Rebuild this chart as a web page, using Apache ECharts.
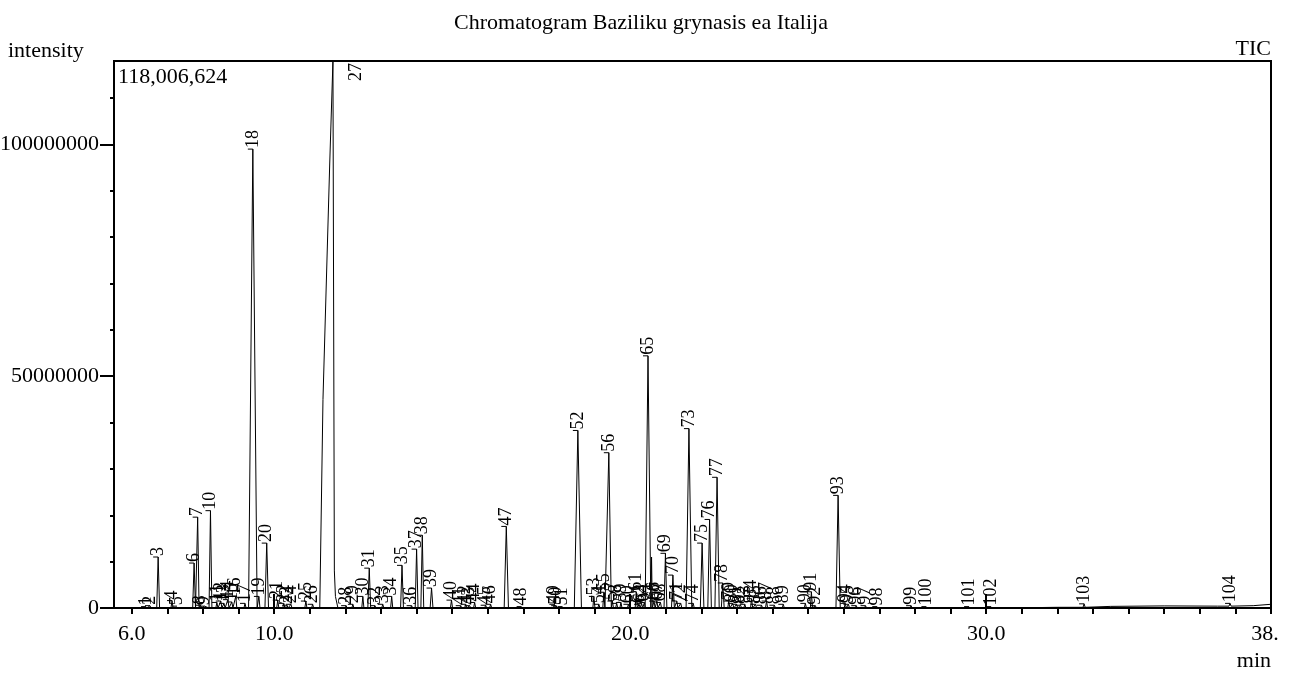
<!DOCTYPE html>
<html>
<head>
<meta charset="utf-8">
<script src="https://cdn.jsdelivr.net/npm/echarts@6/dist/echarts.min.js"></script>
<style>
html,body{margin:0;padding:0;background:#fff;}
#chart{width:1291px;height:673px;}
</style>
</head>
<body>
<div id="chart"></div>
<script>
// ---- data ----
const chartTitle = 'Chromatogram Baziliku grynasis ea Italija';
const yMaxIntensity = 118006624;

const peakLabels = ['1','2','3','4','5','6','7','8','9','10','11','12','13','14','15','16','17','18','19','20',
  '21','22','23','24','25','26','28','29','30','31','32','33','34','35','36','37','38','39','40',
  '41','42','43','44','45','46','47','48','49','50','51','52','53','54','55','56','57','58','59','60',
  '61','62','63','64','65','','66','67','68','69','70','71','72','73','74','75','76','77','78','79','80',
  '81','82','83','84','85','86','87','88','89','90','91','92','93','94','95','96','97','98','99','100',
  '101','102','103','104'];
const peakTimes = [6.40,6.51,6.74,7.13,7.27,7.75,7.85,7.93,8.04,8.21,8.39,8.50,8.59,8.70,8.81,8.92,9.18,9.40,9.57,9.79,
  10.10,10.27,10.36,10.47,10.89,11.08,12.02,12.21,12.49,12.67,12.83,13.05,13.30,13.59,13.86,14.00,14.16,14.42,14.98,
  15.24,15.38,15.49,15.63,15.94,16.08,16.52,16.95,17.87,17.92,18.10,18.53,18.98,19.12,19.26,19.40,19.50,19.62,19.74,19.95,
  20.17,20.25,20.32,20.40,20.50,20.60,20.67,20.75,20.85,20.99,21.20,21.31,21.42,21.65,21.77,22.02,22.23,22.44,22.60,22.77,22.88,
  22.99,23.10,23.22,23.41,23.52,23.69,23.83,24.05,24.30,24.92,25.09,25.20,25.84,26.04,26.13,26.35,26.61,26.94,27.89,28.32,
  29.52,30.14,32.75,36.85];
const peakHeights = [0.3e6,0.5e6,11.0e6,1.6e6,0.4e6,9.7e6,19.6e6,0.6e6,0.4e6,21.0e6,1.2e6,1.5e6,1.0e6,1.8e6,1.3e6,2.5e6,1.0e6,99.0e6,2.5e6,14.0e6,
  1.7e6,1.0e6,0.6e6,0.8e6,1.5e6,0.8e6,0.5e6,0.8e6,2.5e6,8.6e6,0.5e6,0.8e6,2.5e6,9.2e6,0.5e6,12.7e6,15.7e6,4.3e6,1.7e6,
  0.5e6,0.8e6,0.5e6,1.2e6,0.6e6,0.8e6,17.6e6,0.3e6,0.8e6,0.5e6,0.3e6,38.3e6,2.5e6,0.8e6,3.4e6,33.5e6,1.5e6,1.0e6,1.2e6,0.8e6,
  3.5e6,0.8e6,1.0e6,1.2e6,54.4e6,11.0e6,1.5e6,1.5e6,1.2e6,11.8e6,7.1e6,1.5e6,1.0e6,38.7e6,1.0e6,14.0e6,19.1e6,28.2e6,5.4e6,1.5e6,1.0e6,
  0.8e6,0.6e6,0.8e6,2.0e6,0.8e6,0.6e6,1.5e6,0.6e6,0.8e6,1.0e6,3.5e6,0.5e6,24.3e6,1.0e6,0.8e6,0.5e6,0.5e6,0.3e6,0.5e6,0.3e6,
  0.3e6,0.3e6,0.9e6,1.0e6];
const peakHalfWidths = [0.03,0.03,0.04,0.03,0.03,0.04,0.04,0.03,0.03,0.04,0.03,0.03,0.03,0.03,0.03,0.03,0.03,0.12,0.03,0.05,
  0.03,0.03,0.03,0.03,0.03,0.03,0.03,0.03,0.03,0.04,0.03,0.03,0.03,0.04,0.03,0.04,0.04,0.04,0.03,
  0.03,0.03,0.03,0.03,0.03,0.03,0.06,0.03,0.03,0.03,0.03,0.10,0.03,0.03,0.03,0.09,0.03,0.03,0.03,0.03,
  0.03,0.03,0.03,0.03,0.08,0.02,0.03,0.03,0.03,0.04,0.04,0.03,0.03,0.08,0.03,0.05,0.05,0.06,0.04,0.03,0.03,
  0.03,0.03,0.03,0.03,0.03,0.03,0.03,0.03,0.03,0.03,0.03,0.03,0.06,0.03,0.03,0.03,0.03,0.03,0.03,0.03,
  0.03,0.03,0.03,0.03];

// main (overloaded) peak 27, traced point by point
const peak27Label = '27';
const peak27Times  = [11.28, 11.37, 11.56, 11.65, 11.66, 11.69, 11.72, 11.79];
const peak27Values = [0, 45e6, 96e6, 118006624, 118006624, 8e6, 2.5e6, 0];

// baseline drift
const baselineTimes  = [5.5, 30.5, 32.0, 33.5, 35.0, 36.5, 37.5, 38.0];
const baselineValues = [0, 0, 0.15e6, 0.35e6, 0.45e6, 0.4e6, 0.5e6, 0.8e6];

// axis ticks / labels
const xMinorTicks = [6,7,8,9,10,11,12,13,14,15,16,17,18,19,20,21,22,23,24,25,26,27,28,29,30,31,32,33,34,35,36,37,38];
const xMajorTicks = [10,20,30];
const xLabelValues = [6,10,20,30,38];
const xLabelTexts = ['6.0','10.0','20.0','30.0','38.'];
const yMinorTicks = [0,10e6,20e6,30e6,40e6,50e6,60e6,70e6,80e6,90e6,100e6,110e6];
const yMajorTicks = [0,50e6,100e6];
const yLabelTexts = ['0','50000000','100000000'];

// ---- build trace ----
function nearestBase(t){
  let best = 0, bd = Infinity;
  baselineTimes.forEach((bt,i)=>{ const d=Math.abs(bt-t); if(d<bd){bd=d;best=baselineValues[i];} });
  return best;
}
const trace = [];
baselineTimes.forEach((t,i)=>trace.push([t, baselineValues[i]]));
peakTimes.forEach((t,i)=>{
  const b = nearestBase(t), w = peakHalfWidths[i];
  trace.push([t-w, b]); trace.push([t, peakHeights[i]]); trace.push([t+w, b]);
});
peak27Times.forEach((t,i)=>trace.push([t, peak27Values[i]]));
trace.sort((a,b)=>a[0]-b[0]);

const labelData = peakTimes.map((t,i)=>[t, peakHeights[i], peakLabels[i]]);
labelData.push([peak27Times[3], peak27Values[3], peak27Label]);

const FONT = '"Liberation Serif", "Times New Roman", serif';

const chart = echarts.init(document.getElementById('chart'), null, {renderer:'canvas'});
chart.setOption({
  animation: false,
  backgroundColor: '#fff',
  grid: {left:114, top:61, width:1157, height:547, show:true, borderColor:'#000', borderWidth:2,
    backgroundColor:'transparent', containLabel:false, outerBoundsMode:'none'},
  xAxis: [{
    type:'value', min:5.5, max:38,
    axisLine:{show:true, lineStyle:{color:'#000', width:2}},
    axisTick:{show:true, customValues:xMinorTicks, length:6, lineStyle:{color:'#000', width:2}},
    axisLabel:{show:true, customValues:xLabelValues, margin:15, color:'#000', fontSize:22, fontFamily:FONT,
      formatter:(v)=>{ const i = xLabelValues.indexOf(Math.round(v*10)/10); return i>=0 ? (i===xLabelValues.length-1 ? '{e|'+xLabelTexts[i]+'}' : xLabelTexts[i]) : ''; },
      rich:{e:{fontSize:22, fontFamily:FONT, color:'#000', padding:[0,12,0,0]}}},
    splitLine:{show:false}
  },{
    type:'value', min:5.5, max:38, gridIndex:0,
    axisLine:{show:false},
    axisTick:{show:true, customValues:xMajorTicks, length:14, lineStyle:{color:'#000', width:2}},
    axisLabel:{show:false}, splitLine:{show:false}
  }],
  yAxis: [{
    type:'value', min:0, max:yMaxIntensity, position:'left',
    axisLine:{show:true, lineStyle:{color:'#000', width:2}},
    axisTick:{show:true, customValues:yMinorTicks, length:4, lineStyle:{color:'#000', width:2}},
    axisLabel:{show:false}, splitLine:{show:false}
  },{
    type:'value', min:0, max:yMaxIntensity, position:'left', offset:0,
    axisLine:{show:false},
    axisTick:{show:true, customValues:yMajorTicks, length:14, lineStyle:{color:'#000', width:2}},
    axisLabel:{show:true, customValues:yMajorTicks, margin:15, color:'#000', fontSize:22, fontFamily:FONT,
      formatter:(v)=>{ const i = yMajorTicks.indexOf(v); return i>=0 ? yLabelTexts[i] : ''; }},
    splitLine:{show:false}
  }],
  series: [{
    type:'line', data:trace, xAxisIndex:0, yAxisIndex:0,
    showSymbol:false, symbol:'none', lineStyle:{color:'#000', width:1}, clip:true, z:3
  },{
    type:'custom', xAxisIndex:0, yAxisIndex:0, data:labelData, clip:false, z:4,
    encode:{x:0, y:1},
    renderItem:(params, api)=>{
      const t = api.value(0), h = api.value(1);
      const txt = labelData[params.dataIndex][2];
      if(!txt) return null;
      const p = api.coord([t, h]);
      let x = p[0], y = p[1] - 1;
      const children = [];
      if (h >= yMaxIntensity) {
        x = p[0] + 23; y = p[1] + 20;
      } else {
        children.push({type:'line', shape:{x1:p[0]-5, y1:p[1], x2:p[0], y2:p[1]}, style:{stroke:'#000', lineWidth:1}});
      }
      children.push({type:'text', x:x, y:y, rotation:Math.PI/2,
        style:{text:txt, fill:'#000', fontSize:18, fontFamily:FONT, align:'left', verticalAlign:'middle'}});
      return {type:'group', children};
    }
  }],
  graphic: [
    {type:'text', x:641, y:23, style:{text:chartTitle, fill:'#000', fontSize:22, fontFamily:FONT, align:'center', verticalAlign:'middle'}},
    {type:'text', x:8, y:51, style:{text:'intensity', fill:'#000', fontSize:22, fontFamily:FONT, align:'left', verticalAlign:'middle'}},
    {type:'text', x:1271, y:49, style:{text:'TIC', fill:'#000', fontSize:22, fontFamily:FONT, align:'right', verticalAlign:'middle'}},
    {type:'text', x:118, y:77, style:{text:'118,006,624', fill:'#000', fontSize:22, fontFamily:FONT, align:'left', verticalAlign:'middle'}},
    {type:'text', x:1271, y:661, style:{text:'min', fill:'#000', fontSize:22, fontFamily:FONT, align:'right', verticalAlign:'middle'}}
  ]
});
</script>
</body>
</html>
